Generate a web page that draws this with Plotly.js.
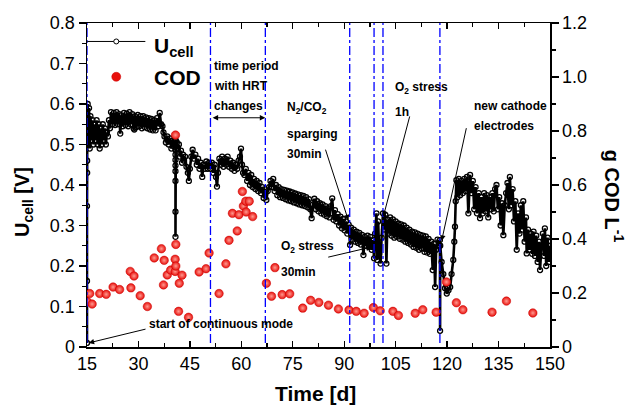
<!DOCTYPE html>
<html>
<head>
<meta charset="utf-8">
<script src="https://cdn.plot.ly/plotly-3.0.1.min.js"></script>
<style>html,body{margin:0;padding:0;background:#fff;}#chart{width:629px;height:410px;}</style>
</head>
<body>
<div id="chart"></div>
<script>
// ---- Data ----
const uDay = [
  15.0,15.0,15.0,15.05,15.05,15.1,15.2,15.4,15.6,15.8,
  16.0,16.3,16.6,16.9,17.2,17.5,17.8,18.1,18.4,18.7,
  19.0,19.3,19.6,19.9,20.2,20.5,20.8,21.1,21.4,21.7,
  22.0,22.4,22.8,23.2,23.6,24.0,24.4,24.7,25.0,25.4,
  25.8,26.2,26.6,27.0,27.4,27.8,28.2,28.6,28.8,29.0,
  29.4,29.8,30.2,30.6,31.0,31.4,31.8,32.2,32.6,33.0,
  33.4,33.8,34.2,34.6,35.0,35.4,35.8,36.2,36.6,37.0,
  37.3,37.6,38.0,38.4,38.8,39.2,39.6,40.0,40.4,40.7,
  40.8,40.8,40.8,40.8,40.8,40.8,40.8,40.8,40.8,40.9,
  41.2,41.5,41.8,42.1,42.4,42.7,43.0,43.3,43.6,44.0,
  44.4,44.7,45.0,45.4,45.8,46.2,46.6,47.0,47.4,47.8,
  48.2,48.6,49.0,49.4,49.8,50.2,50.6,51.0,51.4,51.8,
  52.2,52.6,52.9,53.2,53.6,54.0,54.4,54.8,55.2,55.6,
  56.0,56.4,56.8,57.2,57.6,58.0,58.4,58.8,59.2,59.6,
  59.9,60.2,60.5,60.9,61.3,61.7,62.1,62.5,62.9,63.3,
  63.7,64.1,64.5,64.9,65.3,65.7,66.1,66.5,66.9,67.3,
  67.7,68.1,68.5,68.9,69.3,69.7,70.1,70.5,70.9,71.3,
  71.7,72.1,72.5,72.9,73.3,73.7,74.1,74.5,74.9,75.3,
  75.7,76.1,76.5,76.9,77.3,77.7,78.1,78.5,78.9,79.3,
  79.7,80.1,80.5,80.9,81.3,81.7,82.1,82.5,82.9,83.3,
  83.7,84.1,84.5,84.9,85.3,85.7,86.1,86.5,86.9,87.3,
  87.7,88.1,88.5,88.9,89.3,89.7,90.1,90.5,90.9,91.3,
  91.7,92.0,92.4,92.8,93.2,93.6,94.0,94.4,94.8,95.2,
  95.6,96.0,96.4,96.8,97.2,97.6,98.0,98.4,98.7,99.0,
  99.4,99.6,99.9,100.2,100.6,100.9,101.3,101.6,102.0,102.3,
  102.6,103.0,103.4,103.8,104.2,104.6,105.0,105.4,105.8,106.2,
  106.6,107.0,107.4,107.8,108.2,108.6,109.0,109.4,109.8,110.2,
  110.6,111.0,111.4,111.8,112.2,112.6,113.0,113.4,113.8,114.2,
  114.6,115.0,115.4,115.8,116.2,116.5,116.8,117.2,117.6,117.9,
  117.95,118.0,118.4,118.9,119.4,119.9,120.4,120.9,121.3,121.8,
  122.1,122.3,122.5,122.7,123.0,123.4,123.8,124.2,124.6,125.0,
  125.4,125.8,126.2,126.7,127.1,127.5,127.9,128.3,128.7,129.2,
  129.6,130.0,130.4,130.8,131.2,131.6,132.0,132.4,132.8,133.2,
  133.6,134.0,134.4,134.8,135.2,135.6,136.0,136.4,136.8,137.2,
  137.6,138.0,138.3,138.7,139.1,139.5,139.9,140.3,140.7,141.1,
  141.5,141.9,142.2,142.6,143.0,143.2,143.6,144.0,144.4,144.8,
  145.2,145.6,146.0,146.4,146.8,147.1,147.5,147.9,148.3,148.5,
  148.9,149.3,149.7,150.0
];
const uCell = [
  0.01,0.163,0.348,0.43,0.46,0.53,0.60,0.50,0.59,0.49,
  0.57,0.51,0.56,0.50,0.55,0.51,0.56,0.50,0.55,0.49,
  0.54,0.50,0.55,0.51,0.54,0.50,0.53,0.52,0.56,0.54,
  0.58,0.55,0.578,0.548,0.58,0.55,0.575,0.527,0.572,0.545,
  0.578,0.548,0.576,0.545,0.58,0.55,0.575,0.54,0.537,0.57,
  0.543,0.573,0.545,0.57,0.54,0.57,0.543,0.567,0.54,0.565,
  0.537,0.563,0.535,0.56,0.535,0.565,0.545,0.578,0.55,0.545,
  0.53,0.52,0.505,0.52,0.50,0.515,0.49,0.51,0.495,0.51,
  0.50,0.487,0.475,0.462,0.448,0.434,0.41,0.334,0.272,0.51,
  0.505,0.49,0.50,0.47,0.485,0.455,0.475,0.46,0.47,0.445,
  0.43,0.41,0.44,0.47,0.487,0.465,0.475,0.45,0.465,0.44,
  0.455,0.42,0.45,0.44,0.458,0.44,0.455,0.44,0.455,0.43,
  0.45,0.42,0.396,0.43,0.465,0.45,0.47,0.445,0.465,0.45,
  0.47,0.445,0.46,0.44,0.455,0.435,0.45,0.44,0.46,0.47,
  0.49,0.45,0.43,0.425,0.44,0.41,0.43,0.40,0.425,0.395,
  0.415,0.39,0.41,0.385,0.405,0.38,0.395,0.368,0.39,0.363,
  0.385,0.395,0.41,0.395,0.415,0.385,0.40,0.375,0.395,0.37,
  0.39,0.368,0.388,0.365,0.386,0.362,0.384,0.36,0.382,0.357,
  0.379,0.355,0.377,0.352,0.375,0.35,0.373,0.348,0.37,0.345,
  0.365,0.34,0.318,0.352,0.366,0.34,0.36,0.335,0.355,0.33,
  0.352,0.327,0.348,0.323,0.343,0.32,0.348,0.367,0.314,0.338,
  0.31,0.328,0.30,0.322,0.293,0.316,0.288,0.31,0.28,0.302,
  0.252,0.295,0.265,0.29,0.26,0.285,0.257,0.282,0.253,0.277,
  0.227,0.272,0.25,0.275,0.247,0.272,0.24,0.264,0.219,0.28,
  0.33,0.215,0.31,0.23,0.206,0.27,0.33,0.29,0.326,0.206,
  0.315,0.28,0.32,0.275,0.315,0.27,0.31,0.272,0.305,0.267,
  0.303,0.265,0.30,0.26,0.295,0.257,0.29,0.253,0.285,0.247,
  0.283,0.245,0.28,0.24,0.277,0.243,0.275,0.235,0.273,0.233,
  0.267,0.23,0.26,0.19,0.255,0.148,0.24,0.265,0.25,0.264,
  0.04,0.25,0.21,0.18,0.145,0.132,0.14,0.148,0.18,0.215,
  0.26,0.297,0.36,0.412,0.37,0.415,0.375,0.41,0.38,0.415,
  0.385,0.42,0.33,0.425,0.38,0.41,0.34,0.395,0.33,0.38,
  0.318,0.37,0.33,0.38,0.335,0.375,0.32,0.37,0.34,0.38,
  0.335,0.39,0.40,0.34,0.37,0.30,0.355,0.276,0.35,0.38,
  0.405,0.34,0.42,0.35,0.39,0.31,0.36,0.24,0.33,0.28,
  0.35,0.29,0.36,0.26,0.32,0.231,0.29,0.24,0.28,0.23,
  0.285,0.225,0.275,0.21,0.26,0.19,0.25,0.28,0.225,0.293,
  0.20,0.27,0.21,0.25
];
const codDay = [15.1,15.8,16.5,18.7,20.6,22.6,24.5,27.6,27.8,28.7,30.5,32.6,34.6,36.7,37.3,37.5,38.4,39.4,40.7,40.7,40.8,40.9,40.9,41.7,41.9,42.7,44.6,47.7,49.7,50.6,53.5,55.5,56.4,57.4,58.8,59.3,60.3,60.6,61.3,61.4,62.3,63.3,67.3,68.8,69.8,71.9,74.1,77.9,80.2,82.6,85.4,88.3,91.4,93.5,95.8,98.5,100.5,104.2,105.8,110.7,112.9,116.8,119.8,122.7,124.6,133.1,137.3,145.0];
const codVal = [0.168,0.198,0.159,0.198,0.195,0.222,0.213,0.28,0.219,0.263,0.19,0.15,0.33,0.364,0.23,0.321,0.267,0.285,0.325,0.28,0.785,0.30,0.38,0.132,0.236,0.266,0.11,0.278,0.29,0.348,0.198,0.308,0.395,0.495,0.43,0.49,0.576,0.522,0.54,0.50,0.54,0.483,0.236,0.188,0.294,0.194,0.197,0.144,0.173,0.165,0.155,0.141,0.137,0.132,0.125,0.146,0.134,0.132,0.117,0.125,0.138,0.129,0.241,0.164,0.138,0.129,0.17,0.126];
const eventDays = [15, 51, 67, 91.6, 98.7, 101.3, 117.9];
const xTickVals = [15,30,45,60,75,90,105,120,135,150];
const codTickVals = [0,0.2,0.4,0.6,0.8,1.0,1.2];
const codTickText = ['0','0.2','0.4','0.6','0.8','1.0','1.2'];

// ---- Plot ----
const FONT = 'Liberation Sans, Arial, Helvetica, sans-serif';
const blk = '#000';

const traces = [
  {x: uDay, y: uCell, type: 'scatter', mode: 'lines+markers', name: 'Ucell',
   line: {color: blk, width: 2.6, simplify: false},
   marker: {symbol: 'circle-open', size: 5, color: blk, line: {color: blk, width: 1.3}},
   showlegend: false, yaxis: 'y'},
  {x: codDay, y: codVal, type: 'scatter', mode: 'markers', name: 'COD',
   marker: {symbol: 'circle', size: 8.5, color: '#e8100c',
            gradient: {type: 'radial', color: '#ff9a90'},
            line: {color: '#c80000', width: 0.5}},
   showlegend: false, yaxis: 'y2'}
];

const shapes = eventDays.map(d => ({
  type: 'line', xref: 'x', yref: 'y', x0: d, x1: d, y0: 0.01, y1: 0.8,
  line: {color: '#0000ff', width: 1.3, dash: 'dashdot'}, layer: 'above'
}));
// custom legend glyphs
shapes.push({type: 'line', xref: 'paper', yref: 'paper', x0: 0.0006, x1: 0.126, y0: 0.943, y1: 0.943,
             line: {color: blk, width: 1}});
shapes.push({type: 'circle', xref: 'paper', yref: 'paper', xsizemode: 'pixel', ysizemode: 'pixel',
             xanchor: 0.0632, yanchor: 0.943, x0: -2.5, x1: 2.5, y0: -2.5, y1: 2.5,
             fillcolor: '#fff', line: {color: blk, width: 1}});
shapes.push({type: 'circle', xref: 'paper', yref: 'paper', xsizemode: 'pixel', ysizemode: 'pixel',
             xanchor: 0.0632, yanchor: 0.834, x0: -4.5, x1: 4.5, y0: -4.5, y1: 4.5,
             fillcolor: '#e8100c', line: {color: '#c80000', width: 0.5}});

function txt(t, x, y) {
  return {text: '<b>' + t + '</b>', x: x, y: y, xref: 'x', yref: 'y', xanchor: 'left', yanchor: 'middle',
          showarrow: false, font: {family: FONT, size: 12, color: blk}};
}
function arr(x, y, ax, ay, both) {
  return {text: '', x: x, y: y, ax: ax, ay: ay, xref: 'x', yref: 'y', axref: 'x', ayref: 'y',
          showarrow: true, arrowhead: 2, arrowsize: 1.1, arrowwidth: 1, arrowcolor: blk,
          standoff: 0, startstandoff: 0, arrowside: both ? 'end+start' : 'end', startarrowhead: 2, startarrowsize: 1.1};
}

const annotations = [
  txt('time period', 51.3, 0.694),
  txt('with HRT', 51.3, 0.645),
  txt('changes', 51.3, 0.595),
  txt('N<sub>2</sub>/CO<sub>2</sub>', 72.8, 0.59),
  txt('sparging', 72.8, 0.526),
  txt('30min', 72.8, 0.477),
  txt('O<sub>2</sub> stress', 104.3, 0.639),
  txt('1h', 104.3, 0.581),
  txt('new cathode', 127.4, 0.594),
  txt('electrodes', 127.4, 0.546),
  txt('O<sub>2</sub> stress', 71.1, 0.247),
  txt('30min', 71.1, 0.186),
  txt('start of continuous mode', 32.6, 0.056),
  arr(15.47, 0.01, 32.5, 0.045),
  arr(91.2, 0.313, 84.4, 0.491),
  arr(101.4, 0.322, 109.2, 0.573),
  arr(118.4, 0.262, 125.7, 0.544),
  arr(98.0, 0.247, 84.9, 0.221),
  arr(67.0, 0.566, 51.2, 0.566, true),
  // legend labels
  {text: '<b>U<sub>cell</sub></b>', xref: 'paper', yref: 'paper', x: 0.141, y: 0.925, xanchor: 'left', yanchor: 'middle',
   showarrow: false, font: {family: FONT, size: 21, color: blk}},
  {text: '<b>COD</b>', xref: 'paper', yref: 'paper', x: 0.141, y: 0.831, xanchor: 'left', yanchor: 'middle',
   showarrow: false, font: {family: FONT, size: 21, color: blk}},
  // axis titles
  {text: '<b>U<sub>cell</sub> [V]</b>', xref: 'paper', yref: 'paper', x: -0.137, y: 0.446, textangle: -90,
   xanchor: 'center', yanchor: 'middle', showarrow: false, font: {family: FONT, size: 20, color: blk}},
  {text: '<b>g COD L<sup>-1</sup></b>', xref: 'paper', yref: 'paper', x: 1.138, y: 0.464, textangle: 90,
   xanchor: 'center', yanchor: 'middle', showarrow: false, font: {family: FONT, size: 20, color: blk}},
  {text: '<b>Time [d]</b>', xref: 'paper', yref: 'paper', x: 0.494, y: -0.145,
   xanchor: 'center', yanchor: 'middle', showarrow: false, font: {family: FONT, size: 21, color: blk}}
];

const layout = {
  width: 629, height: 410,
  margin: {l: 87, r: 79, t: 23, b: 63},
  paper_bgcolor: '#fff', plot_bgcolor: '#fff',
  showlegend: false,
  font: {family: FONT, color: blk},
  xaxis: {range: [15, 150], tickvals: xTickVals, ticks: 'inside', ticklen: 6, tickwidth: 1.3, tickcolor: blk,
          minor: {dtick: 7.5, tick0: 15, ticks: 'inside', ticklen: 4, tickwidth: 1.2, tickcolor: blk},
          showline: true, linewidth: 1.5, linecolor: blk, mirror: 'ticks', showgrid: false, zeroline: false,
          tickfont: {family: FONT, size: 18, color: blk}},
  yaxis: {range: [0, 0.8], dtick: 0.1, tick0: 0, ticks: 'outside', ticklen: 7, tickwidth: 1.3, tickcolor: blk,
          minor: {dtick: 0.05, ticks: 'outside', ticklen: 4, tickwidth: 1.2, tickcolor: blk},
          showline: true, linewidth: 1.5, linecolor: blk, showgrid: false, zeroline: false,
          tickfont: {family: FONT, size: 18, color: blk}},
  yaxis2: {range: [0, 1.2], overlaying: 'y', side: 'right', tickvals: codTickVals, ticktext: codTickText,
           ticks: 'outside', ticklen: 7, tickwidth: 1.3, tickcolor: blk,
           minor: {dtick: 0.1, ticks: 'outside', ticklen: 4, tickwidth: 1.2, tickcolor: blk},
           showline: true, linewidth: 1.5, linecolor: blk, showgrid: false, zeroline: false,
           tickfont: {family: FONT, size: 18, color: blk}},
  shapes: shapes,
  annotations: annotations
};

Plotly.newPlot('chart', traces, layout, {displayModeBar: false, staticPlot: true});
</script>
</body>
</html>
